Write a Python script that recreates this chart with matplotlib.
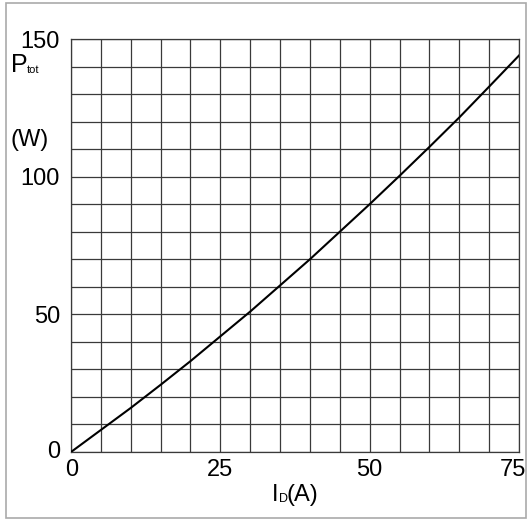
import matplotlib.pyplot as plt
from matplotlib.patches import Rectangle
import matplotlib.transforms as mtransforms

plt.rcParams['font.family'] = ['Liberation Sans', 'DejaVu Sans']

# drain current (A) vs total power dissipation (W)
current_a = [0, 5, 10, 15, 20, 25, 30, 35, 40, 45, 50, 55, 60, 65, 70, 75]
power_w = [0, 8, 16, 24.4, 33, 42, 51, 60.5, 70, 80, 90, 100.3, 110.8, 121.5, 132.7, 144]

x_ticks = [0, 25, 50, 75]
y_ticks = [0, 50, 100, 150]

W, H = 527, 520
fig = plt.figure(figsize=(W / 100, H / 100), dpi=100)
ax = fig.add_axes([71 / W, 1 - 452 / H, (519 - 71) / W, (452 - 39) / H])

grid_col = '#3a3a3a'
ax.set_xlim(0, 75)
ax.set_ylim(0, 150)
ax.set_xticks(range(0, 76, 5), minor=True)
ax.set_yticks(range(0, 151, 10), minor=True)
ax.set_xticks(x_ticks)
ax.set_yticks(y_ticks)
ax.grid(True, which='both', color=grid_col, lw=0.9)
ax.tick_params(which='both', length=0, labelsize=17, colors='black')
ax.tick_params(axis='x', pad=5)
ax.tick_params(axis='y', pad=8)
for s in ax.spines.values():
    s.set_color(grid_col)
    s.set_linewidth(0.9)

ax.plot(current_a, power_w, color='black', lw=1.5, zorder=3)

# nudge the 0 labels and keep 75 inside the picture
fig.canvas.draw()
xl = ax.get_xticklabels()
yl = ax.get_yticklabels()
xl[0].set_transform(xl[0].get_transform() + mtransforms.ScaledTranslation(0.01, 0, fig.dpi_scale_trans))
xl[-1].set_transform(xl[-1].get_transform() + mtransforms.ScaledTranslation(-0.06, 0, fig.dpi_scale_trans))
yl[0].set_transform(yl[0].get_transform() + mtransforms.ScaledTranslation(0, 0.03, fig.dpi_scale_trans))

def px(x, y):
    return x / W, 1 - y / H

fig.text(*px(11, 65), 'P', fontsize=18, va='center', ha='left')
fig.text(*px(27, 70), 'tot', fontsize=8, va='center', ha='left')
fig.text(*px(10, 140), '(W)', fontsize=17, va='center', ha='left')
fig.text(*px(272, 495), 'I', fontsize=17, va='center', ha='left')
fig.text(*px(279, 499), 'D', fontsize=9, va='center', ha='left')
fig.text(*px(287, 495), '(A)', fontsize=17, va='center', ha='left')

fig.patches.append(Rectangle(px(6, 518), (526 - 6) / W, (518 - 3) / H,
                             transform=fig.transFigure, fill=False,
                             edgecolor='#aaaaaa', lw=1.2))

fig.savefig('out.png', dpi=100)
